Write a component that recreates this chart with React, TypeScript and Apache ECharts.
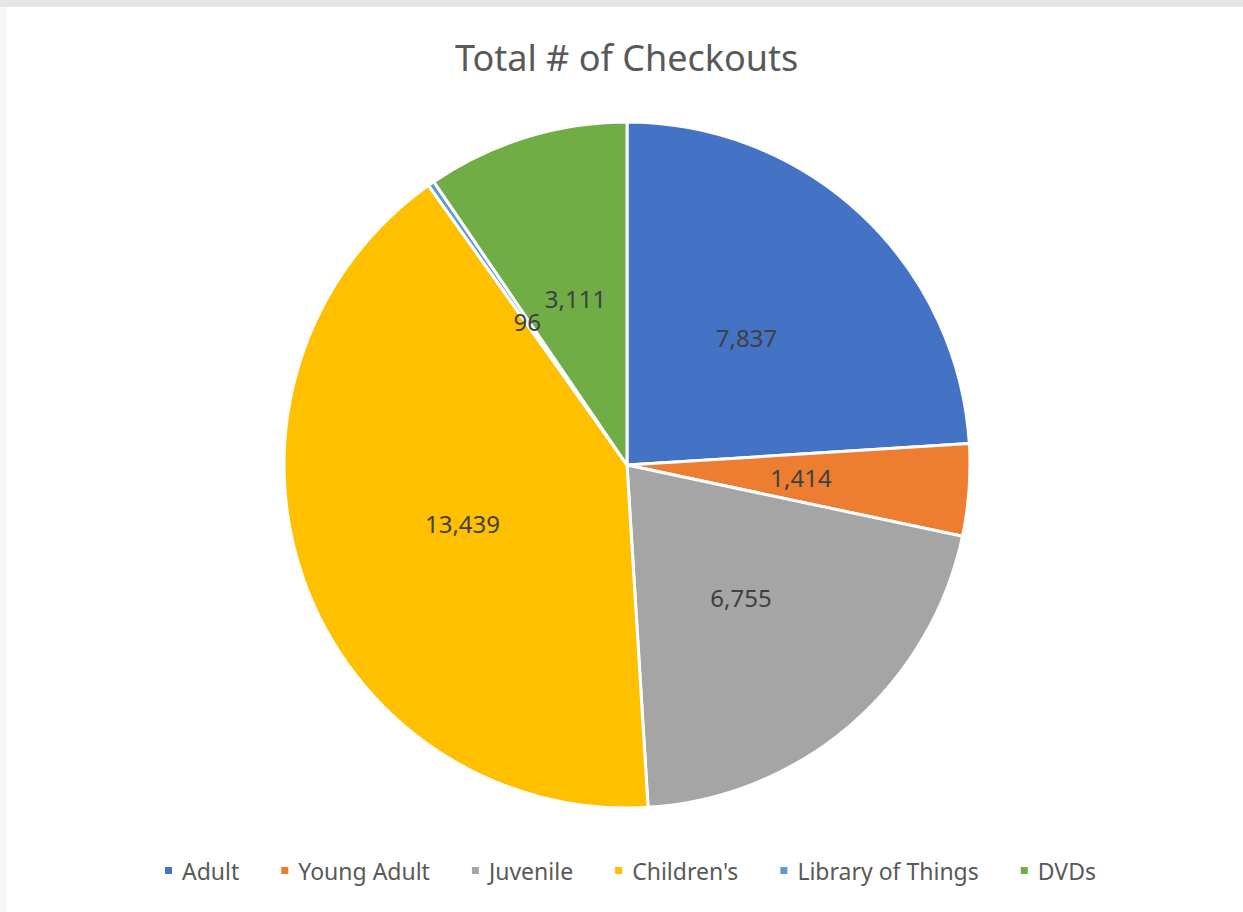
import React, { useEffect, useRef } from "react";
import * as echarts from "echarts";

const categories = ["Adult", "Young Adult", "Juvenile", "Children's", "Library of Things", "DVDs"];
const checkouts = [7837, 1414, 6755, 13439, 96, 3111];
const colors = ["#4472C4", "#ED7D31", "#A5A5A5", "#FFC000", "#5B9BD5", "#70AD47"];
const titleText = "Total # of Checkouts";

export default function App() {
  const ref = useRef<HTMLDivElement>(null);
  useEffect(() => {
    document.body.style.margin = "0";
    const chart = echarts.init(ref.current!, undefined, { renderer: "svg" });
    chart.setOption({
      animation: false,
      backgroundColor: "#ffffff",
      color: colors,
      graphic: [
        { type: "rect", shape: { x: 0, y: 0, width: 1243, height: 7 }, style: { fill: "#e6e6e6" }, z: -1 },
        { type: "rect", shape: { x: 0, y: 7, width: 6, height: 905 }, style: { fill: "#f6f6f6" }, z: -1 },
      ],
      title: {
        text: titleText,
        left: 450,
        top: 34,
        textStyle: { fontFamily: "Noto Sans", fontSize: 36, fontWeight: "normal", color: "#595959" },
      },
      legend: {
        bottom: 25,
        left: 158,
        icon: "rect",
        itemWidth: 9,
        itemHeight: 9,
        itemGap: 40,
        textStyle: { fontFamily: "Noto Sans", fontSize: 23, color: "#595959", padding: [0, 0, 0, 4] },
        data: categories,
      },
      series: [
        {
          type: "pie",
          center: [627, 465],
          radius: [0, 343],
          startAngle: 90,
          clockwise: true,
          avoidLabelOverlap: false,
          itemStyle: { borderColor: "#ffffff", borderWidth: 3 },
          label: {
            show: true,
            position: "inside",
            fontFamily: "Noto Sans",
            fontSize: 24,
            color: "#404040",
            formatter: (p: any) => p.value.toLocaleString("en-US"),
          },
          labelLine: { show: false },
          emphasis: { disabled: true },
          data: categories.map((c, i) => ({ name: c, value: checkouts[i] })),
        },
      ],
    });
    return () => chart.dispose();
  }, []);
  return <div ref={ref} style={{ position: "absolute", left: 0, top: 0, width: 1243, height: 912 }} />;
}
